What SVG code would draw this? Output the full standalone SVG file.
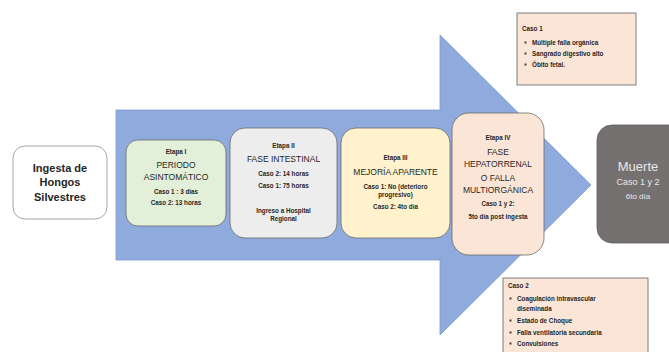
<svg xmlns="http://www.w3.org/2000/svg" width="669" height="352" viewBox="0 0 669 352">
<style>
text{font-family:"Liberation Sans",Arial,sans-serif;fill:#262626;text-anchor:middle}
.b{font-weight:bold}
.s{font-size:6.3px;font-weight:bold}
.t{font-size:8.5px}
.l{text-anchor:start}
.box{stroke:#6b6b6b;stroke-width:0.8}
.note{fill:#FBE5D6;stroke:#7F7F7F;stroke-width:1}
.w{fill:#E8E8E8}
</style>
<rect width="669" height="352" fill="#ffffff"/>
<g id="connectors">
<path d="M116,110 H440 V35 L591,185 L440,335 V260 H116 Z" fill="#8FAADC" stroke="#7E9AD0" stroke-width="0.8"/>
</g>
<g id="ingesta">
<rect x="13" y="146" width="94" height="73" rx="12" fill="#ffffff" stroke="#A6A6A6" stroke-width="1"/>
<text class="b" x="60" y="171.5" font-size="11">Ingesta de</text>
<text class="b" x="60" y="185.5" font-size="11">Hongos</text>
<text class="b" x="60" y="200.5" font-size="11">Silvestres</text>
</g>
<g id="etapa1">
<rect class="box" x="126" y="140" width="100" height="86" rx="12" fill="#E2EFD9"/>
<text class="s" x="176" y="154">Etapa I</text>
<text class="t" x="176" y="168">PERIODO</text>
<text class="t" x="176" y="180">ASINTOMÁTICO</text>
<text class="s" x="176" y="194">Caso 1 : 3 días</text>
<text class="s" x="176" y="205">Caso 2: 13 horas</text>
</g>
<g id="etapa2">
<rect class="box" x="230" y="128" width="107" height="110" rx="15" fill="#EDEDED"/>
<text class="s" x="283.5" y="148">Etapa II</text>
<text class="t" x="283.5" y="162">FASE INTESTINAL</text>
<text class="s" x="283.5" y="176">Caso 2: 14 horas</text>
<text class="s" x="283.5" y="188">Caso 1: 75 horas</text>
<text class="s" x="283.5" y="213">Ingreso a Hospital</text>
<text class="s" x="283.5" y="221">Regional</text>
</g>
<g id="etapa3">
<rect class="box" x="341" y="128" width="109" height="110" rx="15" fill="#FFF2CC"/>
<text class="s" x="395.5" y="160">Etapa III</text>
<text class="t" x="395.5" y="175">MEJORÍA APARENTE</text>
<text class="s" x="395.5" y="188.5">Caso 1: No (deterioro</text>
<text class="s" x="395.5" y="196.5">progresivo)</text>
<text class="s" x="395.5" y="209">Caso 2: 4to día</text>
</g>
<g id="etapa4">
<rect class="box" x="452" y="113" width="92" height="142" rx="17" fill="#FBE5D6"/>
<text class="s" x="498" y="140">Etapa IV</text>
<text class="t" x="498" y="155">FASE</text>
<text class="t" x="498" y="167">HEPATORRENAL</text>
<text class="t" x="498" y="181">O FALLA</text>
<text class="t" x="498" y="193">MULTIORGÁNICA</text>
<text class="s" x="498" y="206">Caso 1 y 2:</text>
<text class="s" x="498" y="219">5to día post ingesta</text>
</g>
<g id="muerte">
<rect x="597" y="125" width="90" height="118" rx="15" fill="#767171" stroke="#5f5c5c" stroke-width="0.8"/>
<text class="w" x="638" y="171" font-size="13">Muerte</text>
<text class="w" x="638" y="184.5" font-size="9">Caso 1 y 2</text>
<text class="w" x="638" y="199" font-size="8">6to día</text>
</g>
<g id="caso1">
<rect class="note" x="517" y="13" width="119" height="72"/>
<text class="s l" x="522" y="31">Caso 1</text>
<rect x="524.5" y="41.5" width="2" height="2" fill="#404040"/>
<rect x="524.5" y="52.5" width="2" height="2" fill="#404040"/>
<rect x="524.5" y="63.5" width="2" height="2" fill="#404040"/>
<text class="s l" x="532" y="44.5">Múltiple falla orgánica</text>
<text class="s l" x="532" y="55.5">Sangrado digestivo alto</text>
<text class="s l" x="532" y="66.5">Óbito fetal.</text>
</g>
<g id="caso2">
<rect class="note" x="503" y="278" width="145" height="80"/>
<text class="s l" x="508" y="287.5">Caso 2</text>
<rect x="509.5" y="297.5" width="2" height="2" fill="#404040"/>
<rect x="509.5" y="319.5" width="2" height="2" fill="#404040"/>
<rect x="509.5" y="331.5" width="2" height="2" fill="#404040"/>
<rect x="509.5" y="342.5" width="2" height="2" fill="#404040"/>
<text class="s l" x="517" y="300.5">Coagulación intravascular</text>
<text class="s l" x="517" y="310.5">diseminada</text>
<text class="s l" x="517" y="322.5">Estado de Choque</text>
<text class="s l" x="517" y="334.5">Falla ventilatoria secundaria</text>
<text class="s l" x="517" y="345.5">Convulsiones</text>
</g>
</svg>
